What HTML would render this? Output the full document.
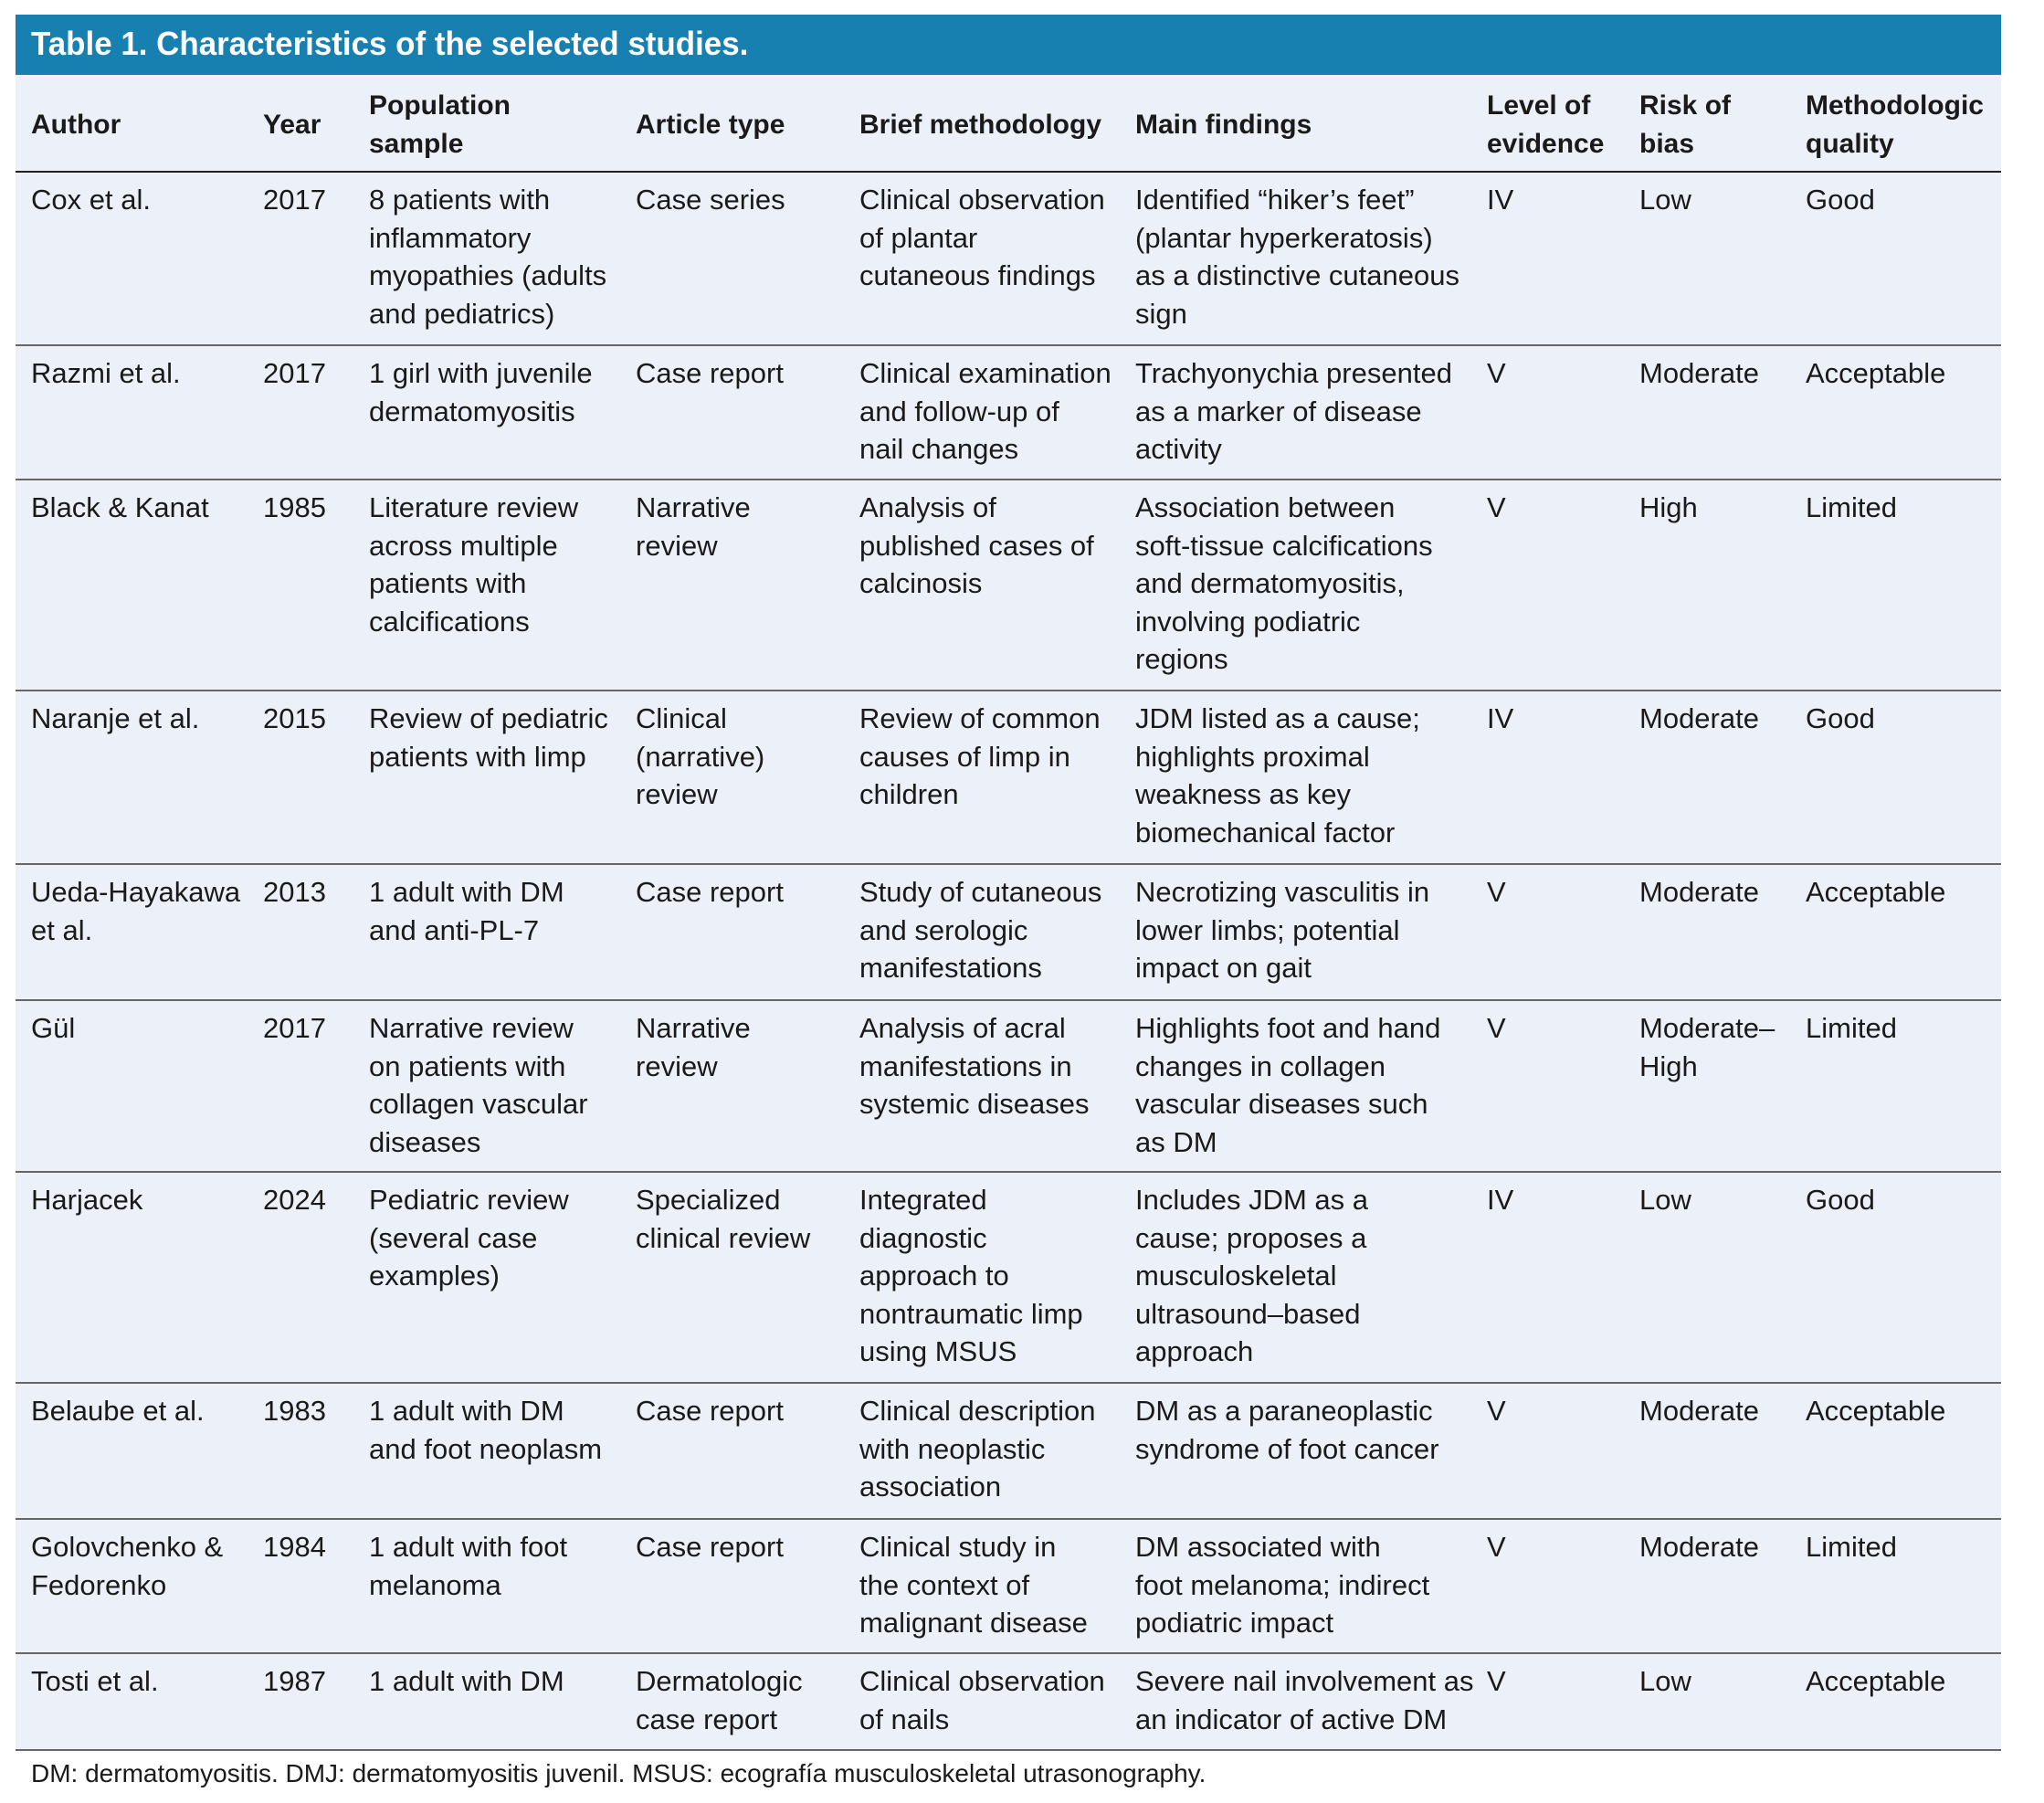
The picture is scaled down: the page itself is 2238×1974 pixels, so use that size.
<!DOCTYPE html>
<html><head><meta charset="utf-8"><style>
body{margin:0;width:2238px;height:1974px;background:#fff;position:relative;overflow:hidden;font-family:"Liberation Sans",sans-serif;color:#1a1a1a}
.bar{position:absolute;left:17px;top:16px;width:2174px;height:66px;background:#1880b0}
.bar span{position:absolute;left:17px;top:11px;font-size:36px;font-weight:bold;color:#fff;white-space:nowrap;transform:scaleX(.97);transform-origin:left}
.bg{position:absolute;left:17px;top:82px;width:2174px;height:1834px;background:#ecf0f8}
.ln{position:absolute;left:17px;width:2174px;height:2px;background:#666}
.c{position:absolute;font-size:31px;line-height:41.5px;white-space:nowrap;transform:scaleX(1);transform-origin:left}
.h{font-weight:bold;font-size:30px}
.foot{position:absolute;left:34px;top:1926px;font-size:28px;white-space:nowrap}
</style></head><body>
<div class="bar"><span>Table 1. Characteristics of the selected studies.</span></div>
<div class="bg"></div>
<div class="ln" style="top:187px;background:#222"></div>
<div class="ln" style="top:377px"></div>
<div class="ln" style="top:524px"></div>
<div class="ln" style="top:755px"></div>
<div class="ln" style="top:945px"></div>
<div class="ln" style="top:1094px"></div>
<div class="ln" style="top:1282px"></div>
<div class="ln" style="top:1513px"></div>
<div class="ln" style="top:1662px"></div>
<div class="ln" style="top:1809px"></div>
<div class="ln" style="top:1915px"></div>

<div class="c h" style="left:34px;top:116px">Author</div>
<div class="c h" style="left:288px;top:116px">Year</div>
<div class="c h" style="left:404px;top:95px">Population<br>sample</div>
<div class="c h" style="left:696px;top:116px">Article type</div>
<div class="c h" style="left:941px;top:116px">Brief methodology</div>
<div class="c h" style="left:1243px;top:116px">Main findings</div>
<div class="c h" style="left:1628px;top:95px">Level of<br>evidence</div>
<div class="c h" style="left:1795px;top:95px">Risk of<br>bias</div>
<div class="c h" style="left:1977px;top:95px">Methodologic<br>quality</div>

<div class="c" style="left:34px;top:198px">Cox et al.</div>
<div class="c" style="left:288px;top:198px">2017</div>
<div class="c" style="left:404px;top:198px">8 patients with<br>inflammatory<br>myopathies (adults<br>and pediatrics)</div>
<div class="c" style="left:696px;top:198px">Case series</div>
<div class="c" style="left:941px;top:198px">Clinical observation<br>of plantar<br>cutaneous findings</div>
<div class="c" style="left:1243px;top:198px">Identified “hiker’s feet”<br>(plantar hyperkeratosis)<br>as a distinctive cutaneous<br>sign</div>
<div class="c" style="left:1628px;top:198px">IV</div>
<div class="c" style="left:1795px;top:198px">Low</div>
<div class="c" style="left:1977px;top:198px">Good</div>

<div class="c" style="left:34px;top:388px">Razmi et al.</div>
<div class="c" style="left:288px;top:388px">2017</div>
<div class="c" style="left:404px;top:388px">1 girl with juvenile<br>dermatomyositis</div>
<div class="c" style="left:696px;top:388px">Case report</div>
<div class="c" style="left:941px;top:388px">Clinical examination<br>and follow-up of<br>nail changes</div>
<div class="c" style="left:1243px;top:388px">Trachyonychia presented<br>as a marker of disease<br>activity</div>
<div class="c" style="left:1628px;top:388px">V</div>
<div class="c" style="left:1795px;top:388px">Moderate</div>
<div class="c" style="left:1977px;top:388px">Acceptable</div>

<div class="c" style="left:34px;top:535px">Black &amp; Kanat</div>
<div class="c" style="left:288px;top:535px">1985</div>
<div class="c" style="left:404px;top:535px">Literature review<br>across multiple<br>patients with<br>calcifications</div>
<div class="c" style="left:696px;top:535px">Narrative<br>review</div>
<div class="c" style="left:941px;top:535px">Analysis of<br>published cases of<br>calcinosis</div>
<div class="c" style="left:1243px;top:535px">Association between<br>soft-tissue calcifications<br>and dermatomyositis,<br>involving podiatric<br>regions</div>
<div class="c" style="left:1628px;top:535px">V</div>
<div class="c" style="left:1795px;top:535px">High</div>
<div class="c" style="left:1977px;top:535px">Limited</div>

<div class="c" style="left:34px;top:766px">Naranje et al.</div>
<div class="c" style="left:288px;top:766px">2015</div>
<div class="c" style="left:404px;top:766px">Review of pediatric<br>patients with limp</div>
<div class="c" style="left:696px;top:766px">Clinical<br>(narrative)<br>review</div>
<div class="c" style="left:941px;top:766px">Review of common<br>causes of limp in<br>children</div>
<div class="c" style="left:1243px;top:766px">JDM listed as a cause;<br>highlights proximal<br>weakness as key<br>biomechanical factor</div>
<div class="c" style="left:1628px;top:766px">IV</div>
<div class="c" style="left:1795px;top:766px">Moderate</div>
<div class="c" style="left:1977px;top:766px">Good</div>

<div class="c" style="left:34px;top:956px">Ueda-Hayakawa<br>et al.</div>
<div class="c" style="left:288px;top:956px">2013</div>
<div class="c" style="left:404px;top:956px">1 adult with DM<br>and anti-PL-7</div>
<div class="c" style="left:696px;top:956px">Case report</div>
<div class="c" style="left:941px;top:956px">Study of cutaneous<br>and serologic<br>manifestations</div>
<div class="c" style="left:1243px;top:956px">Necrotizing vasculitis in<br>lower limbs; potential<br>impact on gait</div>
<div class="c" style="left:1628px;top:956px">V</div>
<div class="c" style="left:1795px;top:956px">Moderate</div>
<div class="c" style="left:1977px;top:956px">Acceptable</div>

<div class="c" style="left:34px;top:1105px">Gül</div>
<div class="c" style="left:288px;top:1105px">2017</div>
<div class="c" style="left:404px;top:1105px">Narrative review<br>on patients with<br>collagen vascular<br>diseases</div>
<div class="c" style="left:696px;top:1105px">Narrative<br>review</div>
<div class="c" style="left:941px;top:1105px">Analysis of acral<br>manifestations in<br>systemic diseases</div>
<div class="c" style="left:1243px;top:1105px">Highlights foot and hand<br>changes in collagen<br>vascular diseases such<br>as DM</div>
<div class="c" style="left:1628px;top:1105px">V</div>
<div class="c" style="left:1795px;top:1105px">Moderate–<br>High</div>
<div class="c" style="left:1977px;top:1105px">Limited</div>

<div class="c" style="left:34px;top:1293px">Harjacek</div>
<div class="c" style="left:288px;top:1293px">2024</div>
<div class="c" style="left:404px;top:1293px">Pediatric review<br>(several case<br>examples)</div>
<div class="c" style="left:696px;top:1293px">Specialized<br>clinical review</div>
<div class="c" style="left:941px;top:1293px">Integrated<br>diagnostic<br>approach to<br>nontraumatic limp<br>using MSUS</div>
<div class="c" style="left:1243px;top:1293px">Includes JDM as a<br>cause; proposes a<br>musculoskeletal<br>ultrasound–based<br>approach</div>
<div class="c" style="left:1628px;top:1293px">IV</div>
<div class="c" style="left:1795px;top:1293px">Low</div>
<div class="c" style="left:1977px;top:1293px">Good</div>

<div class="c" style="left:34px;top:1524px">Belaube et al.</div>
<div class="c" style="left:288px;top:1524px">1983</div>
<div class="c" style="left:404px;top:1524px">1 adult with DM<br>and foot neoplasm</div>
<div class="c" style="left:696px;top:1524px">Case report</div>
<div class="c" style="left:941px;top:1524px">Clinical description<br>with neoplastic<br>association</div>
<div class="c" style="left:1243px;top:1524px">DM as a paraneoplastic<br>syndrome of foot cancer</div>
<div class="c" style="left:1628px;top:1524px">V</div>
<div class="c" style="left:1795px;top:1524px">Moderate</div>
<div class="c" style="left:1977px;top:1524px">Acceptable</div>

<div class="c" style="left:34px;top:1673px">Golovchenko &amp;<br>Fedorenko</div>
<div class="c" style="left:288px;top:1673px">1984</div>
<div class="c" style="left:404px;top:1673px">1 adult with foot<br>melanoma</div>
<div class="c" style="left:696px;top:1673px">Case report</div>
<div class="c" style="left:941px;top:1673px">Clinical study in<br>the context of<br>malignant disease</div>
<div class="c" style="left:1243px;top:1673px">DM associated with<br>foot melanoma; indirect<br>podiatric impact</div>
<div class="c" style="left:1628px;top:1673px">V</div>
<div class="c" style="left:1795px;top:1673px">Moderate</div>
<div class="c" style="left:1977px;top:1673px">Limited</div>

<div class="c" style="left:34px;top:1820px">Tosti et al.</div>
<div class="c" style="left:288px;top:1820px">1987</div>
<div class="c" style="left:404px;top:1820px">1 adult with DM</div>
<div class="c" style="left:696px;top:1820px">Dermatologic<br>case report</div>
<div class="c" style="left:941px;top:1820px">Clinical observation<br>of nails</div>
<div class="c" style="left:1243px;top:1820px">Severe nail involvement as<br>an indicator of active DM</div>
<div class="c" style="left:1628px;top:1820px">V</div>
<div class="c" style="left:1795px;top:1820px">Low</div>
<div class="c" style="left:1977px;top:1820px">Acceptable</div>

<div class="foot">DM: dermatomyositis. DMJ: dermatomyositis juvenil. MSUS: ecografía musculoskeletal utrasonography.</div>
</body></html>
